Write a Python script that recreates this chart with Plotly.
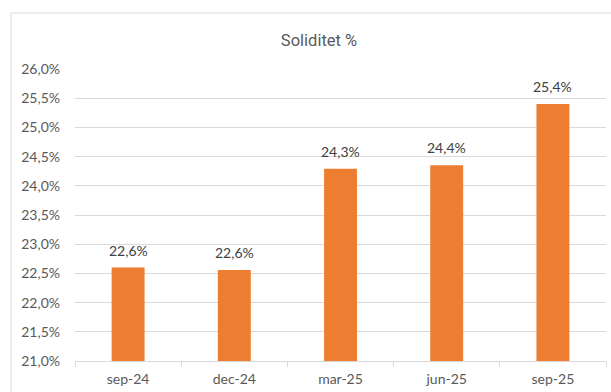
import plotly.graph_objects as go

categories = ["sep-24", "dec-24", "mar-25", "jun-25", "sep-25"]
soliditet = [22.6, 22.56, 24.29, 24.35, 25.4]
y_ticks = [21.0, 21.5, 22.0, 22.5, 23.0, 23.5, 24.0, 24.5, 25.0, 25.5, 26.0]
title_text = "Soliditet %"


def pct(v):
    return f"{v:.1f}".replace(".", ",") + "%"


W, H = 611, 392
L, R, T, B = 75, 5, 69, 31
pw = W - L - R
ph = H - T - B

fig = go.Figure()
fig.add_trace(go.Bar(
    x=categories,
    y=soliditet,
    marker=dict(color="#ED7D31", line=dict(width=0)),
    hoverinfo="skip",
))

annotations = [
    dict(
        x=c, y=v, xref="x", yref="y",
        text=pct(v), showarrow=False,
        yanchor="bottom", yshift=7,
        font=dict(family="Lato, Open Sans, sans-serif", size=14, color="#404040"),
    )
    for c, v in zip(categories, soliditet)
]

fig.update_layout(
    width=W, height=H,
    margin=dict(l=L, r=R, t=T, b=B, pad=0),
    paper_bgcolor="white",
    plot_bgcolor="white",
    separators=",.",
    bargap=0.69,
    showlegend=False,
    title=dict(
        text=title_text,
        x=319 / W,
        xanchor="center",
        y=1 - 40 / H,
        yanchor="middle",
        font=dict(family="Roboto, sans-serif", size=16.5, color="#595959"),
    ),
    font=dict(family="Lato, sans-serif", color="#595959"),
    xaxis=dict(
        type="category",
        showgrid=False,
        showline=True,
        linecolor="#d9d9d9",
        linewidth=1,
        ticks="outside",
        tickson="boundaries",
        ticklen=5,
        tickcolor="#d9d9d9",
        tickfont=dict(family="Lato, sans-serif", size=14, color="#595959"),
        ticklabelstandoff=5,
    ),
    yaxis=dict(
        range=[21.0, 26.0],
        tickvals=y_ticks,
        ticktext=[pct(v) for v in y_ticks],
        showgrid=True,
        gridcolor="#d9d9d9",
        gridwidth=1,
        zeroline=False,
        showline=False,
        tickfont=dict(family="Lato, sans-serif", size=14, color="#595959"),
        ticklabelstandoff=14,
    ),
    annotations=annotations,
    shapes=[dict(
        type="rect",
        xref="paper", yref="paper",
        x0=(11 - L) / pw, x1=1.3,
        y0=-0.5, y1=(H - B - 13) / ph,
        line=dict(color="#d9d9d9", width=1),
        fillcolor="rgba(0,0,0,0)",
        layer="below",
    )],
)

fig.write_html("out.html")
